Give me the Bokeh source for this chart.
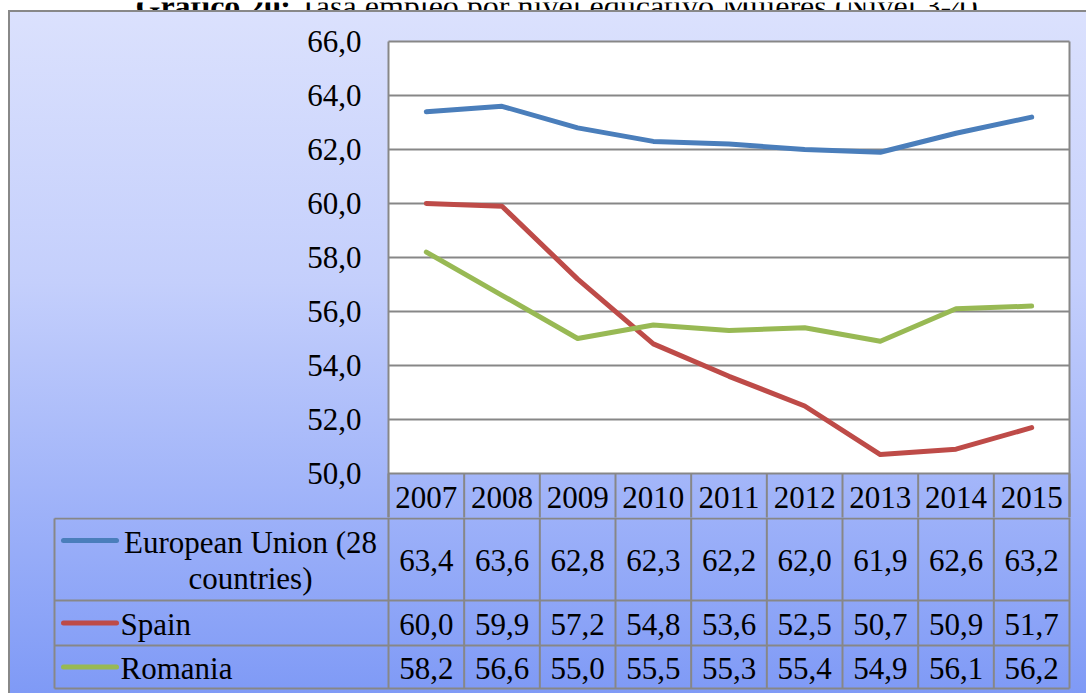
from bokeh.plotting import figure
from bokeh.layouts import column
from bokeh.models import Range1d
from bokeh.embed import file_html
from bokeh.resources import INLINE
from bokeh.core.properties import value

# ---------------- data ----------------
years = ["2007", "2008", "2009", "2010", "2011", "2012", "2013", "2014", "2015"]
eu = [63.4, 63.6, 62.8, 62.3, 62.2, 62.0, 61.9, 62.6, 63.2]
spain = [60.0, 59.9, 57.2, 54.8, 53.6, 52.5, 50.7, 50.9, 51.7]
romania = [58.2, 56.6, 55.0, 55.5, 55.3, 55.4, 54.9, 56.1, 56.2]
series_values = [eu, spain, romania]
series_label_lines = [["European Union (28", "countries)"], ["Spain"], ["Romania"]]
series_colors = ["#4A7EBB", "#BE4B48", "#98B954"]
y_ticks = [50, 52, 54, 56, 58, 60, 62, 64, 66]
y_tick_labels = ["50,0", "52,0", "54,0", "56,0", "58,0", "60,0", "62,0", "64,0", "66,0"]
title_bold = "Gráfico 20:"
title_rest = "Tasa empleo por nivel educativo Mujeres (Nivel 3-4)"

# ---------------- layout constants (page pixels) ----------------
PAGE_W = 1086
OX = 8                # page x where the chart box starts
W = PAGE_W - OX
FONT = "Liberation Serif"
FS = "31px"
GRID = "#878787"
PLOT_L, PLOT_R = 388, 1069
PX_X = (PLOT_R - PLOT_L) / len(years)
PX_Y = 27.0          # pixels per y unit
TOP66 = 41           # page y of the 66 gridline
FRAME_L, FRAME_R = 52, 1071   # common frame of both figures (page x)


def xd(px):
    return (px - PLOT_L) / PX_X


def ya(py):
    return y_ticks[-1] - (py - TOP66) / PX_Y


n = len(years)
xc = [i + 0.5 for i in range(n)]
bounds = list(range(n + 1))


def bare(fig):
    fig.background_fill_alpha = 0
    fig.border_fill_alpha = 0
    fig.axis.visible = False
    fig.grid.visible = False


# ---------------- title strip (clipped, as in the source) ----------------
t = figure(width=PAGE_W, height=10, output_backend="svg", toolbar_location=None,
           x_range=Range1d(0, PAGE_W), y_range=Range1d(10, 0),
           min_border=0, outline_line_color=None)
bare(t)
t.text(x=[135], y=[3.5], text=[title_bold], text_font=value(FONT), text_font_style="bold",
       text_font_size="32px", text_baseline="alphabetic", text_align="left", text_color="black")
t.text(x=[298], y=[3.5], text=[title_rest], text_font=value(FONT),
       text_font_size="32px", text_baseline="alphabetic", text_align="left", text_color="black")

# ---------------- chart (figure A) ----------------
a_top, a_bottom = 10, 517
a = figure(width=W, height=a_bottom - a_top, output_backend="svg", toolbar_location=None,
           x_range=Range1d(xd(FRAME_L), xd(FRAME_R)), y_range=Range1d(ya(a_bottom), ya(a_top)),
           min_border_left=FRAME_L - OX, min_border_right=OX + W - FRAME_R,
           min_border_top=0, min_border_bottom=0, outline_line_color=None)
bare(a)

# white plot area
a.quad(left=[0], right=[n], bottom=[y_ticks[0]], top=[y_ticks[-1]],
       fill_color="white", line_color=None)
# horizontal gridlines (incl. plot border at 50 and 66)
a.segment(x0=[0] * len(y_ticks), y0=y_ticks, x1=[n] * len(y_ticks), y1=y_ticks,
          line_color=GRID, line_width=2)
# left / right plot borders
a.segment(x0=[0, n], y0=[y_ticks[-1]] * 2, x1=[0, n], y1=[ya(530)] * 2,
          line_color=GRID, line_width=2)
# header row separators
a.segment(x0=bounds, y0=[y_ticks[0]] * len(bounds), x1=bounds, y1=[ya(530)] * len(bounds),
          line_color=GRID, line_width=2)
# y tick labels
a.text(x=[xd(361)] * len(y_ticks), y=y_ticks, text=y_tick_labels, text_font=value(FONT),
       text_font_size=FS, text_align="right", text_baseline="middle", text_color="black")
# header row: years
a.text(x=xc, y=[ya(497)] * n, text=years, text_font=value(FONT),
       text_font_size=FS, text_align="center", text_baseline="middle", text_color="black")
# series lines
for vals, col in zip(series_values, series_colors):
    a.line(x=xc, y=vals, line_color=col, line_width=5, line_cap="round", line_join="round")

# ---------------- data table (figure B) ----------------
b_top, b_bottom = 517, 693
ORG = 518                         # page y of row offset 0
row_edges = [0, 82, 127, 170]     # offsets from ORG
TBL_L = 54
b = figure(width=W, height=b_bottom - b_top, output_backend="svg", toolbar_location=None,
           x_range=Range1d(xd(FRAME_L), xd(FRAME_R)),
           y_range=Range1d(b_bottom - ORG, b_top - ORG),
           min_border_left=FRAME_L - OX, min_border_right=OX + W - FRAME_R,
           min_border_top=0, min_border_bottom=0, outline_line_color=None)
bare(b)

b.segment(x0=[xd(TBL_L)] * len(row_edges), y0=row_edges, x1=[n] * len(row_edges), y1=row_edges,
          line_color=GRID, line_width=2)
b.segment(x0=[xd(TBL_L)], y0=[row_edges[0]], x1=[xd(TBL_L)], y1=[row_edges[-1]],
          line_color=GRID, line_width=2)
b.segment(x0=bounds, y0=[-3] * len(bounds), x1=bounds, y1=[row_edges[-1]] * len(bounds),
          line_color=GRID, line_width=2)

for r, (vals, col, lines) in enumerate(zip(series_values, series_colors, series_label_lines)):
    y0, y1 = row_edges[r], row_edges[r + 1]
    yc = (y0 + y1) / 2
    b.text(x=xc, y=[yc + 1] * n, text=[f"{v:.1f}".replace(".", ",") for v in vals],
           text_font=value(FONT), text_font_size=FS, text_align="center",
           text_baseline="middle", text_color="black")
    if len(lines) == 1:
        ky = yc
        b.text(x=[xd(120)], y=[yc + 1], text=lines, text_font=value(FONT), text_font_size=FS,
               text_align="left", text_baseline="middle", text_color="black")
    else:
        ky = y0 + 22
        b.text(x=[xd(250)] * len(lines), y=[y0 + 24, y0 + 60], text=lines,
               text_font=value(FONT), text_font_size=FS, text_align="center",
               text_baseline="middle", text_color="black")
    b.segment(x0=[xd(63)], y0=[ky], x1=[xd(116)], y1=[ky], line_color=col, line_width=5,
              line_cap="round")

chart = column(a, b, spacing=0, margin=(0, 0, 0, OX), styles={
    "background": "linear-gradient(to bottom, #dbe1fd 0%, #c4cffc 40%, #7f9af6 100%)",
    "box-shadow": "inset 2px 2px 0 0 #888888",
})
root = column(t, chart, spacing=0)

open("out.html", "w").write(file_html(root, INLINE))
